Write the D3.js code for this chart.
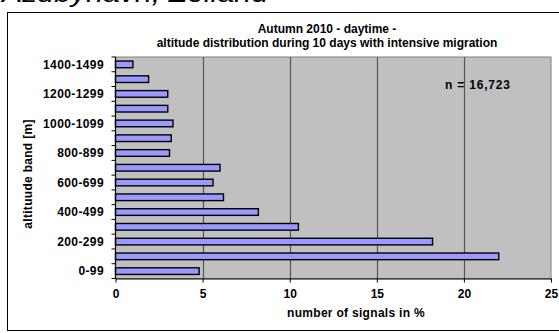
<!DOCTYPE html>
<html>
<head>
<meta charset="utf-8">
<script src="https://cdn.jsdelivr.net/npm/d3@7"></script>
<style>
html,body{margin:0;padding:0;background:#fff;overflow:hidden;}
svg{display:block;font-family:"Liberation Sans",Arial,sans-serif;}
</style>
</head>
<body>
<svg id="c" width="559" height="333"></svg>
<script>
const categories = ["0-99","100-199","200-299","300-399","400-499","500-599","600-699","700-799","800-899","900-999","1000-1099","1100-1199","1200-1299","1300-1399","1400-1499"];
const values = [4.8,22.0,18.2,10.5,8.2,6.2,5.6,6.0,3.1,3.2,3.3,3.0,3.0,1.9,1.0];
const xTicks = [0,5,10,15,20,25];
const yLabelShown = ["0-99","200-299","400-499","600-699","800-899","1000-1099","1200-1299","1400-1499"];
const titleLines = ["Autumn 2010 - daytime -","altitude distribution during 10 days with intensive migration"];
const xTitle = "number of signals in %";
const yTitle = "altituude band [m]";
const note = "n = 16,723";
const topText = "Azubynavn, Zolland";

const svg = d3.select("#c");
const L = 115.5, R = 551, T = 57, B = 278.5;
const FS = 12;

// clipped heading at the very top
svg.append("text").attr("x",2).attr("y",2).attr("font-size",26).attr("font-style","italic")
  .attr("textLength",266).attr("lengthAdjust","spacingAndGlyphs").attr("fill","#000").text(topText);

// chart area border
svg.append("rect").attr("x",7.5).attr("y",12.5).attr("width",600).attr("height",318)
  .attr("fill","#fff").attr("stroke","#000").attr("stroke-width",1);

const x = d3.scaleLinear().domain([0,25]).range([L,R]);
const y = d3.scaleBand().domain(categories.slice().reverse()).range([T,B]).paddingInner(0.55).paddingOuter(0.275);

// plot background
svg.append("rect").attr("x",L).attr("y",T).attr("width",R-L).attr("height",B-T)
  .attr("fill","#c0c0c0").attr("stroke","#808080").attr("stroke-width",1);

// gridlines
svg.append("g").selectAll("line").data(xTicks.filter(d=>d>0&&d<25)).join("line")
  .attr("x1",d=>Math.round(x(d))+0.5).attr("x2",d=>Math.round(x(d))+0.5)
  .attr("y1",T).attr("y2",B).attr("stroke","#555").attr("stroke-width",1.2);

// bars
svg.append("g").selectAll("rect").data(values).join("rect")
  .attr("x",x(0)).attr("y",(d,i)=>y(categories[i]))
  .attr("width",d=>x(d)-x(0)).attr("height",y.bandwidth())
  .attr("fill","#9999ff").attr("stroke","#000").attr("stroke-width",1.4);

// x axis
const xAxis = svg.append("g").attr("transform",`translate(0,${B})`)
  .call(d3.axisBottom(x).tickValues(xTicks).tickSize(4).tickSizeOuter(0));
xAxis.select(".domain").attr("stroke","#000").attr("stroke-width",1.2);
xAxis.selectAll(".tick line").attr("stroke","#000");
xAxis.selectAll(".tick text").attr("font-size",FS).attr("font-weight","bold")
  .attr("font-family","Liberation Sans, Arial, sans-serif").attr("y",19).attr("dy",0).attr("fill","#000");

// y axis (ticks at band boundaries)
const step = y.step();
const boundaries = d3.range(categories.length+1).map(i=>T+i*step);
svg.append("line").attr("x1",L).attr("x2",L).attr("y1",T).attr("y2",B).attr("stroke","#000").attr("stroke-width",1.2);
svg.append("g").selectAll("line").data(boundaries).join("line")
  .attr("x1",L-4).attr("x2",L).attr("y1",d=>d).attr("y2",d=>d).attr("stroke","#000");
svg.append("g").selectAll("text").data(yLabelShown).join("text")
  .attr("x",104).attr("y",d=>y(d)+y.bandwidth()/2).attr("dy","0.36em")
  .attr("text-anchor","end").attr("font-size",FS).attr("font-weight","bold").attr("letter-spacing",0.4).text(d=>d);

// titles
svg.append("g").selectAll("text").data(titleLines).join("text")
  .attr("x",327).attr("y",(d,i)=>32.5+i*14).attr("text-anchor","middle")
  .attr("font-size",FS).attr("font-weight","bold").text(d=>d);
svg.append("text").attr("x",356).attr("y",317).attr("text-anchor","middle")
  .attr("font-size",FS).attr("font-weight","bold").attr("letter-spacing",0.3).text(xTitle);
svg.append("text").attr("transform","translate(32,174) rotate(-90)").attr("text-anchor","middle")
  .attr("font-size",FS).attr("font-weight","bold").attr("letter-spacing",0.3).text(yTitle);
svg.append("text").attr("x",445).attr("y",88.5).attr("font-size",FS).attr("font-weight","bold").attr("letter-spacing",0.8).text(note);
</script>
</body>
</html>
